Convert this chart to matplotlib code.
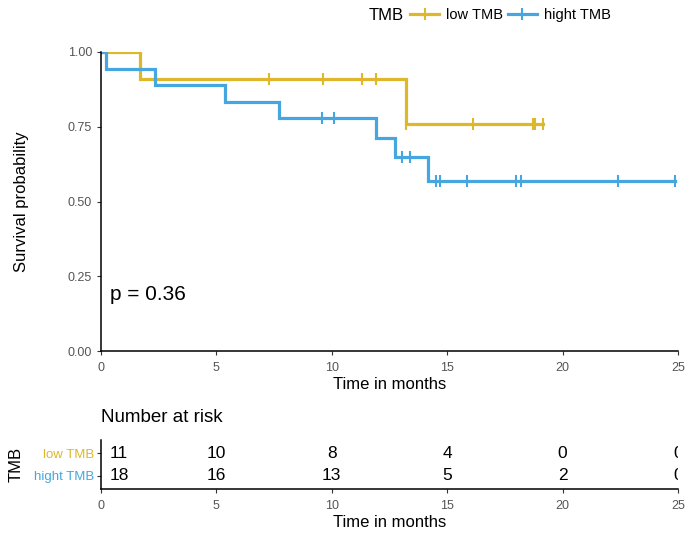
""" Kaplan-Meier curves by TMB group with a number-at-risk table. """
import numpy as np
import matplotlib.pyplot as plt
from matplotlib.lines import Line2D

plt.rcParams['font.family'] = ['Liberation Sans', 'DejaVu Sans']

groups = ['low TMB', 'hight TMB']
colors = ['#DDB82A', '#45A6E0']

# follow-up times (months) and status (1 = event, 0 = censored)
low_times = [1.7, 7.3, 9.6, 11.3, 11.9, 13.2, 13.2, 16.1, 18.7, 18.8, 19.15]
low_status = [1, 0, 0, 0, 0, 1, 0, 0, 0, 0, 0]
high_times = [0.22, 2.34, 5.37, 7.7, 9.58, 10.1, 11.9, 12.74, 13.05, 13.4,
              14.17, 14.5, 14.7, 15.85, 18.0, 18.2, 22.4, 24.85]
high_status = [1, 1, 1, 1, 0, 0, 1, 1, 0, 0, 1, 0, 0, 0, 0, 0, 0, 0]

risk_times = [0, 5, 10, 15, 20, 25]
low_risk = [11, 10, 8, 4, 0, 0]
high_risk = [18, 16, 13, 5, 2, 0]
p_text = 'p = 0.36'


def km(times, status):
    """ Kaplan-Meier step points and censor marks. """
    t = np.array(times, dtype=float)
    s = np.array(status)
    order = np.lexsort((-s, t))
    t, s = t[order], s[order]
    n = len(t)
    xs, ys = [0.0], [1.0]
    surv = 1.0
    cens_x, cens_y = [], []
    for i, (ti, si) in enumerate(zip(t, s)):
        at_risk = n - i
        if si == 1:
            xs.append(ti)
            ys.append(surv)
            surv *= (at_risk - 1) / at_risk
            xs.append(ti)
            ys.append(surv)
        else:
            cens_x.append(ti)
            cens_y.append(surv)
    xs.append(t[-1])
    ys.append(surv)
    return xs, ys, cens_x, cens_y


fig = plt.figure(figsize=(6.85, 5.33), dpi=100)
W, H = 685, 533


def box(l, t, r, b):
    return [l / W, 1 - b / H, (r - l) / W, (b - t) / H]


ax = fig.add_axes(box(101, 52, 678, 351))
for (times, status), c in zip([(low_times, low_status), (high_times, high_status)], colors):
    xs, ys, cx, cy = km(times, status)
    ax.plot(xs, ys, color=c, lw=2.3, solid_joinstyle='miter')
    ax.plot(cx, cy, ls='none', marker='|', ms=9, mew=1.5, color=c)

ax.set_xlim(0, 25)
ax.set_ylim(0, 1)
ax.set_xticks([0, 5, 10, 15, 20, 25])
ax.set_yticks([0, 0.25, 0.5, 0.75, 1.0])
ax.set_yticklabels(['0.00', '0.25', '0.50', '0.75', '1.00'])
for side in ['top', 'right']:
    ax.spines[side].set_visible(False)
for side in ['left', 'bottom']:
    ax.spines[side].set_linewidth(1.1)
ax.tick_params(labelcolor='#555555', labelsize=9, length=3, color='#333333')
ax.tick_params(axis='x', pad=5)
ax.set_xlabel('Time in months', fontsize=12, labelpad=2)
ax.set_ylabel('Survival probability', fontsize=12, labelpad=28)
ax.text(0.4, 0.19, p_text, fontsize=15, va='center')

# legend on top
fig.text(386 / W, 1 - 15 / H, 'TMB', fontsize=12, ha='center', va='center')
handles = [Line2D([], [], color=c, lw=2.3, marker='|', ms=9, mew=1.5) for c in colors]
fig.legend(handles, groups, loc='center left', bbox_to_anchor=(410 / W, 1 - 15 / H),
           ncol=2, frameon=False, fontsize=10.5, handlelength=2.0, handletextpad=0.5,
           columnspacing=0.3, borderaxespad=0, borderpad=0)

# number at risk table
tab = fig.add_axes(box(101, 440, 678, 489))
tab.set_xlim(0, 25)
tab.set_ylim(0.42, 2.58)
for k, (vals, c) in enumerate(zip([low_risk, high_risk], colors)):
    y = 2 - k
    for i, (t, v) in enumerate(zip(risk_times, vals)):
        if i == 0:
            tab.annotate(str(v), (t, y), xytext=(6, 0), textcoords='offset points',
                         ha='left', va='center', fontsize=12.5)
        else:
            txt = tab.text(t, y, str(v), ha='center', va='center', fontsize=12.5)
            txt.set_clip_box(tab.bbox)
            txt.set_clip_on(True)
tab.set_yticks([2, 1])
tab.set_yticklabels(groups)
for lbl, c in zip(tab.get_yticklabels(), colors):
    lbl.set_color(c)
tab.set_xticks(risk_times)
for side in ['top', 'right']:
    tab.spines[side].set_visible(False)
for side in ['left', 'bottom']:
    tab.spines[side].set_linewidth(1.1)
tab.tick_params(axis='x', labelcolor='#555555', labelsize=9, length=3, color='#333333', pad=5)
tab.tick_params(axis='y', labelsize=9.5, length=3, pad=2, color='#333333')
tab.set_xlabel('Time in months', fontsize=12, labelpad=2)
tab.set_ylabel('TMB', fontsize=12, labelpad=7)
tab.set_title('Number at risk', fontsize=13.5, loc='left', pad=13)

plt.savefig('out.png', dpi=100)
